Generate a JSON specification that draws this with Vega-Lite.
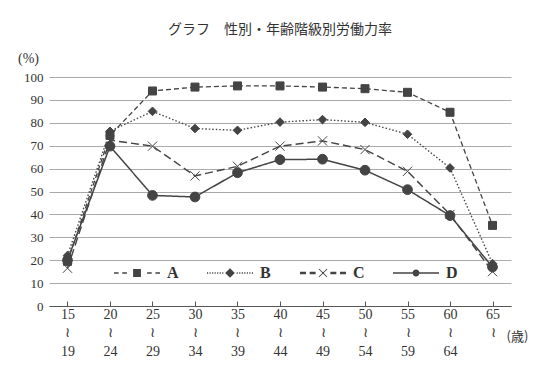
{
  "$schema": "https://vega.github.io/schema/vega-lite/v6.json",
  "width": 462,
  "height": 229,
  "autosize": {"type": "none"},
  "padding": {"left": 49, "top": 77, "right": 34, "bottom": 63},
  "background": "white",
  "title": {"text": "グラフ　性別・年齢階級別労働力率", "anchor": "middle", "offset": 14, "font": "Noto Sans CJK JP", "fontSize": 14, "fontWeight": "normal", "color": "#333"},
  "config": {"view": {"stroke": null}},
  "data": {"values": [
    {"age": "15～19", "series": "A", "rate": 19.5},
    {"age": "20～24", "series": "A", "rate": 74.5},
    {"age": "25～29", "series": "A", "rate": 93.9},
    {"age": "30～34", "series": "A", "rate": 95.6},
    {"age": "35～39", "series": "A", "rate": 96.1},
    {"age": "40～44", "series": "A", "rate": 96.1},
    {"age": "45～49", "series": "A", "rate": 95.6},
    {"age": "50～54", "series": "A", "rate": 94.9},
    {"age": "55～59", "series": "A", "rate": 93.3},
    {"age": "60～64", "series": "A", "rate": 84.6},
    {"age": "65～", "series": "A", "rate": 35.2},
    {"age": "15～19", "series": "B", "rate": 22},
    {"age": "20～24", "series": "B", "rate": 76.3},
    {"age": "25～29", "series": "B", "rate": 85},
    {"age": "30～34", "series": "B", "rate": 77.5},
    {"age": "35～39", "series": "B", "rate": 76.7},
    {"age": "40～44", "series": "B", "rate": 80.3},
    {"age": "45～49", "series": "B", "rate": 81.4},
    {"age": "50～54", "series": "B", "rate": 80.2},
    {"age": "55～59", "series": "B", "rate": 75},
    {"age": "60～64", "series": "B", "rate": 60.3},
    {"age": "65～", "series": "B", "rate": 18.5},
    {"age": "15～19", "series": "C", "rate": 16.5},
    {"age": "20～24", "series": "C", "rate": 72.4},
    {"age": "25～29", "series": "C", "rate": 69.8},
    {"age": "30～34", "series": "C", "rate": 56.8},
    {"age": "35～39", "series": "C", "rate": 61},
    {"age": "40～44", "series": "C", "rate": 69.8},
    {"age": "45～49", "series": "C", "rate": 72.1},
    {"age": "50～54", "series": "C", "rate": 68.3},
    {"age": "55～59", "series": "C", "rate": 58.8},
    {"age": "60～64", "series": "C", "rate": 40},
    {"age": "65～", "series": "C", "rate": 15},
    {"age": "15～19", "series": "D", "rate": 20},
    {"age": "20～24", "series": "D", "rate": 69.8},
    {"age": "25～29", "series": "D", "rate": 48.3},
    {"age": "30～34", "series": "D", "rate": 47.6},
    {"age": "35～39", "series": "D", "rate": 58.2},
    {"age": "40～44", "series": "D", "rate": 63.9},
    {"age": "45～49", "series": "D", "rate": 64.1},
    {"age": "50～54", "series": "D", "rate": 59.3},
    {"age": "55～59", "series": "D", "rate": 50.8},
    {"age": "60～64", "series": "D", "rate": 39.5},
    {"age": "65～", "series": "D", "rate": 17}
  ]},
  "encoding": {
    "x": {
      "field": "age", "type": "ordinal",
      "scale": {"type": "point", "padding": 0.435, "domain": ["15～19", "20～24", "25～29", "30～34", "35～39", "40～44", "45～49", "50～54", "55～59", "60～64", "65～"]},
      "axis": {
        "title": "(歳)", "titleX": 468, "titleY": 30, "titleAlign": "center", "titleBaseline": "middle",
        "titleFont": "Noto Sans CJK JP", "titleFontSize": 13, "titleFontWeight": "normal", "titleColor": "#333",
        "labelExpr": "split(replace(datum.value, '～', '\\n≀\\n'), '\\n')",
        "labelFont": "Liberation Serif", "labelFontSize": 14, "labelColor": "#333", "labelLineHeight": 18.5,
        "labelAngle": 0, "labelBaseline": "top", "labelPadding": 6,
        "tickSize": -5, "tickColor": "#555", "domainColor": "#555", "grid": false
      }
    },
    "y": {
      "field": "rate", "type": "quantitative",
      "scale": {"domain": [0, 100]},
      "axis": {
        "title": "(%)", "titleX": -21, "titleY": -19, "titleAngle": 0, "titleAlign": "center", "titleBaseline": "middle",
        "titleFont": "Liberation Serif", "titleFontSize": 14, "titleFontWeight": "normal", "titleColor": "#333",
        "values": [0, 10, 20, 30, 40, 50, 60, 70, 80, 90, 100],
        "labelFont": "Liberation Serif", "labelFontSize": 13, "labelColor": "#333", "labelPadding": 6,
        "ticks": false, "domain": false, "grid": true, "gridColor": "#aaa", "gridWidth": 1
      }
    }
  },
  "layer": [
    {
      "mark": {"type": "line", "color": "#444"},
      "encoding": {
        "strokeDash": {"field": "series", "type": "nominal", "scale": {"domain": ["A", "B", "C", "D"], "range": [[5, 3], [1.5, 2], [8, 4], [1, 0]]}, "legend": null},
        "strokeWidth": {"field": "series", "type": "ordinal", "scale": {"domain": ["A", "B", "C", "D"], "range": [1.3, 1.5, 2.5, 1.3]}, "legend": null}
      }
    },
    {
      "mark": {"type": "point", "filled": true, "color": "#444", "stroke": "#444", "strokeWidth": 1, "opacity": 1},
      "encoding": {
        "shape": {"field": "series", "type": "nominal", "scale": {"domain": ["A", "B", "C", "D"], "range": ["square", "diamond", "M-1,-1L1,1M-1,1L1,-1", "circle"]}, "legend": null},
        "size": {"field": "series", "type": "ordinal", "scale": {"domain": ["A", "B", "C", "D"], "range": [64, 95, 100, 60]}, "legend": null}
      }
    },
    {
      "transform": [{"filter": "false"}],
      "mark": {"type": "point", "filled": true, "color": "#444", "opacity": 1},
      "encoding": {
        "shape": {
          "field": "series", "type": "nominal",
          "scale": {"domain": ["A", "B", "C", "D"], "range": [
            "M-1,-0.028H-0.8V0.028H-1ZM-0.64,-0.028H-0.44V0.028H-0.64ZM-0.17,-0.17H0.17V0.17H-0.17ZM0.44,-0.028H0.64V0.028H0.44ZM0.8,-0.028H1V0.028H0.8Z",
            "M-1,-0.028h0.05v0.056h-0.05ZM-0.89,-0.028h0.05v0.056h-0.05ZM-0.78,-0.028h0.05v0.056h-0.05ZM-0.67,-0.028h0.05v0.056h-0.05ZM-0.56,-0.028h0.05v0.056h-0.05ZM-0.45,-0.028h0.05v0.056h-0.05ZM-0.34,-0.028h0.05v0.056h-0.05ZM0,-0.21L0.21,0L0,0.21L-0.21,0ZM0.29,-0.028h0.05v0.056h-0.05ZM0.4,-0.028h0.05v0.056h-0.05ZM0.51,-0.028h0.05v0.056h-0.05ZM0.62,-0.028h0.05v0.056h-0.05ZM0.73,-0.028h0.05v0.056h-0.05ZM0.84,-0.028h0.05v0.056h-0.05ZM0.95,-0.028h0.05v0.056h-0.05Z",
            "M-1,-0.05H-0.74V0.05H-1ZM-0.58,-0.05H-0.32V0.05H-0.58ZM-0.19,-0.16L-0.16,-0.19L0.19,0.16L0.16,0.19ZM-0.19,0.16L0.16,-0.19L0.19,-0.16L-0.16,0.19ZM0.32,-0.05H0.58V0.05H0.32ZM0.74,-0.05H1V0.05H0.74Z",
            "M-1,-0.028H1V0.028H-1ZM0.15,0A0.15,0.15 0 1,1 -0.15,0A0.15,0.15 0 1,1 0.15,0Z"
          ]},
          "legend": {
            "orient": "none", "legendX": 64, "legendY": 172, "direction": "horizontal", "title": null,
            "symbolSize": 2116, "symbolFillColor": "#444",
            "labelFont": "Liberation Serif", "labelFontSize": 16, "labelFontWeight": "bold",
            "labelColor": "#333", "labelOffset": 6, "columnPadding": 25, "gridAlign": "all", "padding": 0
          }
        }
      }
    }
  ],
  "resolve": {"scale": {"shape": "independent"}, "legend": {"shape": "independent"}}
}
